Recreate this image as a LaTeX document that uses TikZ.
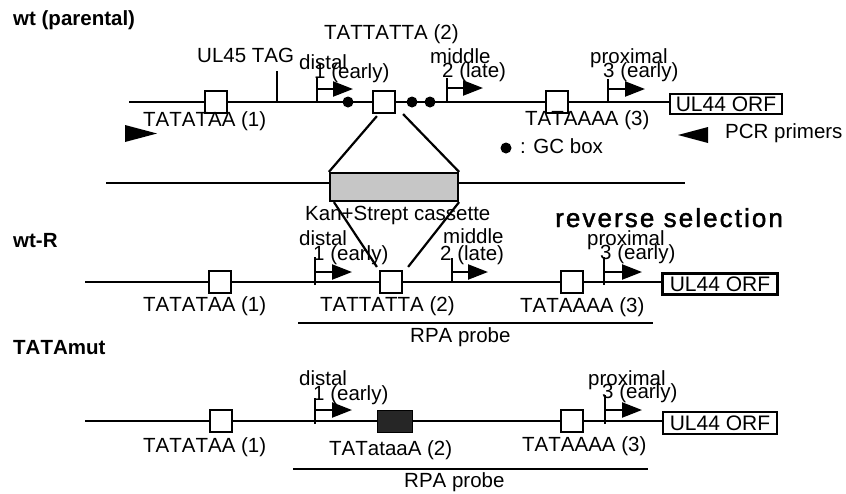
\documentclass[tikz,border=0pt]{standalone}
\usepackage{fontspec}
\setmainfont[Kerning=Off]{Liberation Sans}
\newfontfamily\revfont[LetterSpace=8,FakeBold=1.6,Kerning=Off]{Liberation Sans}
\usetikzlibrary{arrows.meta,calc}
\tikzset{
  lbl/.style={font=\fontsize{20.5}{22}\selectfont, inner sep=0, anchor=base west},
  title/.style={font=\fontsize{20.5}{22}\selectfont\bfseries, inner sep=0, anchor=base west},
  dna/.style={line width=2.2pt},
  tick/.style={line width=2.2pt},
  prom/.style={line width=2.2pt, -{Triangle[length=20pt,width=15pt]}},
  sq/.style={draw, fill=white, line width=2.2pt, minimum width=22pt, minimum height=22pt, inner sep=0},
  mutsq/.style={draw, fill=black!85, line width=1pt, minimum width=35pt, minimum height=22pt, inner sep=0},
  orf/.style={draw, fill=white, line width=2.2pt, inner sep=0, font=\fontsize{21}{22}\selectfont},
  cass/.style={draw, fill=gray!45, line width=2.2pt, minimum width=128pt, minimum height=28pt, inner sep=0},
  ins/.style={line width=2.2pt},
  gc/.style={circle, fill=black, minimum size=11pt, inner sep=0},
  probe/.style={line width=1.6pt}
}
\begin{document}
\begin{tikzpicture}[x=1pt,y=-1pt]
\useasboundingbox[fill=white] (0,0) rectangle (846,493);

% ---------------- Row 1: wt (parental)
\node[title] (t1) at (13,25) {wt (parental)};
\node[sq] (a1) at (216,102) {};
\node[sq] (a2) at (384,102) {};
\node[sq] (a3) at (557,102) {};
\node[orf, minimum width=112pt, minimum height=20pt] (aorf) at (726,104) {UL44 ORF};
\coordinate (a0) at (129,102);
\draw[dna] (a0) -- (a1.west) (a1.east) -- (a2.west) (a2.east) -- (a3.west) (a3.east) -- (a3.east -| aorf.west);
\node[gc] (g1) at (348,102) {};
\node[gc] (g2) at (412,102) {};
\node[gc] (g3) at (430,102) {};

% ticks / promoters row 1
\coordinate (ulb) at (277,102); \coordinate (ult) at (277,71);
\draw[tick] (ulb) -- (ult);
\coordinate (d1b) at (317,102); \coordinate (d1t) at (317,77); \coordinate (d1h) at (353,89);
\draw[tick] (d1b) -- (d1t); \draw[prom] (d1t |- d1h) -- (d1h);
\coordinate (m1b) at (447,102); \coordinate (m1t) at (447,78); \coordinate (m1h) at (483,88);
\draw[tick] (m1b) -- (m1t); \draw[prom] (m1t |- m1h) -- (m1h);
\coordinate (p1b) at (608,102); \coordinate (p1t) at (608,79); \coordinate (p1h) at (645,89);
\draw[tick] (p1b) -- (p1t); \draw[prom] (p1t |- p1h) -- (p1h);

\node[lbl] (l1a) at (324,39) {TATTATTA (2)};
\node[lbl] (l1b) at (197,62) {UL45 TAG};
\node[lbl] (l1c) at (299,69) {distal};
\node[lbl] (l1d) at (314,78) {1 (early)};
\node[lbl] (l1e) at (430,63) {middle};
\node[lbl] (l1f) at (442,77) {2 (late)};
\node[lbl] (l1g) at (590,63) {proximal};
\node[lbl] (l1h) at (603,77) {3 (early)};
\node[lbl] (l1i) at (143,126) {TATATAA (1)};
\node[lbl] (l1j) at (525,125) {TATAAAA (3)};
\node[lbl] (pcr) at (725,138) {PCR primers};
\node[gc] (gleg) at (506,148) {};
\node[lbl] (gctx) at (520,153) {: GC box};
\fill (125,125) -- (157,133.5) -- (125,142) -- cycle;
\fill (708,127) -- (678,135) -- (708,143) -- cycle;

% ---------------- cassette row
\node[cass] (cass) at (394,187) {};
\coordinate (m0) at (106,183);
\coordinate (m9) at (685,183);
\draw[dna] (m0) -- (m0 -| cass.west) (m9 -| cass.east) -- (m9);
\node[lbl] (casst) at (305,220) {Kan+Strept cassette};

% ---------------- Row 2: wt-R
\node[title] (t2) at (13,247) {wt-R};
\node[font=\fontsize{26}{28}\selectfont\revfont, inner sep=0, anchor=base west] (rev) at (555,227) {reverse selection};
\node[sq] (b1) at (220,282) {};
\node[sq] (b2) at (391,282) {};
\node[sq] (b3) at (572,282) {};
\node[orf, minimum width=115pt, minimum height=21pt] (borf) at (720,284) {UL44 ORF};
\coordinate (b0) at (85,282);
\draw[dna] (b0) -- (b1.west) (b1.east) -- (b2.west) (b2.east) -- (b3.west) (b3.east) -- (b3.east -| borf.west);

\coordinate (d2b) at (315,285); \coordinate (d2t) at (315,257); \coordinate (d2h) at (352,272);
\draw[tick] (d2b) -- (d2t); \draw[prom] (d2t |- d2h) -- (d2h);
\coordinate (m2b) at (452,282); \coordinate (m2t) at (452,258); \coordinate (m2h) at (488,272);
\draw[tick] (m2b) -- (m2t); \draw[prom] (m2t |- m2h) -- (m2h);
\coordinate (p2b) at (604,285); \coordinate (p2t) at (604,257); \coordinate (p2h) at (642,272);
\draw[tick] (p2b) -- (p2t); \draw[prom] (p2t |- p2h) -- (p2h);

\node[lbl] (l2c) at (299,245) {distal};
\node[lbl] (l2d) at (313,260) {1 (early)};
\node[lbl] (l2e) at (443,243) {middle};
\node[lbl] (l2f) at (440,260) {2 (late)};
\node[lbl] (l2g) at (587,245) {proximal};
\node[lbl] (l2h) at (600,259) {3 (early)};
\node[lbl] (l2i) at (143,311) {TATATAA (1)};
\node[lbl] (l2a) at (320,311) {TATTATTA (2)};
\node[lbl] (l2j) at (520,312) {TATAAAA (3)};
\coordinate (r2a) at (298,323); \coordinate (r2b) at (653,323);
\draw[probe] (r2a) -- (r2b);
\node[lbl] (rpa2) at (410,342) {RPA probe};

% insertion lines
\draw[ins] ($(a2.south west)+(5,2)$) -- (cass.north west);
\draw[ins] ($(a2.south east)+(7,0)$) -- (cass.north east);
\draw[ins] ($(cass.south west)+(5,0)$) -- ($(b2.north west)+(-2,-3)$);
\draw[ins] (cass.south east) -- ($(b2.north east)+(5,-3)$);

% ---------------- Row 3: TATAmut
\node[title] (t3) at (13,354) {TATAmut};
\node[sq] (c1) at (221,421) {};
\node[mutsq] (cm) at (395,421) {};
\node[sq] (c3) at (572,421) {};
\node[orf, minimum width=114pt, minimum height=22pt] (corf) at (720,423) {UL44 ORF};
\coordinate (c0) at (85,421);
\draw[dna] (c0) -- (c1.west) (c1.east) -- (cm.west) (cm.east) -- (c3.west) (c3.east) -- (c3.east -| corf.west);

\coordinate (d3b) at (315,424); \coordinate (d3t) at (315,398); \coordinate (d3h) at (352,410);
\draw[tick] (d3b) -- (d3t); \draw[prom] (d3t |- d3h) -- (d3h);
\coordinate (p3b) at (605,424); \coordinate (p3t) at (605,395); \coordinate (p3h) at (642,410);
\draw[tick] (p3b) -- (p3t); \draw[prom] (p3t |- p3h) -- (p3h);

\node[lbl] (l3c) at (299,385) {distal};
\node[lbl] (l3d) at (313,400) {1 (early)};
\node[lbl] (l3g) at (588,385) {proximal};
\node[lbl] (l3h) at (602,398) {3 (early)};
\node[lbl] (l3i) at (143,452) {TATATAA (1)};
\node[lbl] (l3a) at (329,455) {TATataaA (2)};
\node[lbl] (l3j) at (522,451) {TATAAAA (3)};
\coordinate (r3a) at (293,469); \coordinate (r3b) at (648,469);
\draw[probe] (r3a) -- (r3b);
\node[lbl] (rpa3) at (404,487) {RPA probe};
\end{tikzpicture}
\end{document}
